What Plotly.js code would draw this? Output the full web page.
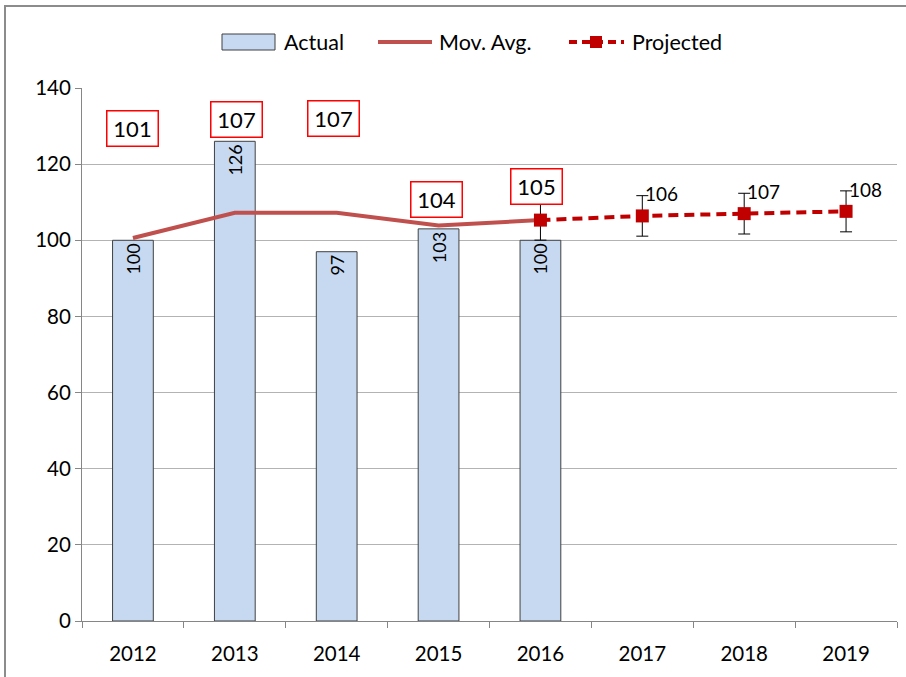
<!DOCTYPE html>
<html>
<head>
<meta charset="utf-8">
<script src="https://cdn.plot.ly/plotly-3.0.1.min.js"></script>
<style>
  html, body { margin: 0; padding: 0; overflow: hidden; background: #fff; }
  #chart { width: 906px; height: 677px; }
  #frame { position: absolute; left: 4px; top: 5px; width: 1200px; height: 1200px;
           border-left: 2px solid #8c8c8c; border-top: 2px solid #8c8c8c; pointer-events: none; }
</style>
</head>
<body>
<div id="chart"></div>
<div id="frame"></div>
<script>
// ---- data ----
const years = ['2012', '2013', '2014', '2015', '2016', '2017', '2018', '2019'];
const actualYears = ['2012', '2013', '2014', '2015', '2016'];
const actual = [100, 126, 97, 103, 100];
const movAvg = [100.6, 107.2, 107.2, 103.9, 105.3];
const projYears = ['2016', '2017', '2018', '2019'];
const projected = [105.3, 106.4, 107.0, 107.6];
const projErrPct = 5;
const seriesNames = ['Actual', 'Mov. Avg.', 'Projected'];
const titleText = 'Average Annual Sales Volume per Store (Thousand Units) Including Trend';

// ---- styling ----
const FONT = 'Lato, "Open Sans", sans-serif';
const BAR_FILL = '#c6d9f1', BAR_LINE = '#404040';
const MA_COLOR = '#c0504d', PROJ_COLOR = '#c00000';
const boxShiftY = [110, 93, 94, 26, 34];
const boxShiftX = [0, 2, -3, -2, -4];

// plot area in page pixels (for the hand-drawn legend)
const PL = 82, PR = 897, PT = 88, PB = 621;
const px = v => (v - PL) / (PR - PL);
const py = v => (PB - v) / (PB - PT);

const traces = [
  {
    type: 'bar', name: seriesNames[0], x: actualYears, y: actual,
    marker: { color: BAR_FILL, line: { color: BAR_LINE, width: 1 } },
    text: actual.map(v => String(v)), textposition: 'inside', insidetextanchor: 'end',
    textangle: -90, constraintext: 'none',
    textfont: { family: FONT, size: 18, color: '#000' }
  },
  {
    type: 'scatter', mode: 'lines', name: seriesNames[1], x: actualYears, y: movAvg,
    line: { color: MA_COLOR, width: 4 }
  },
  {
    type: 'scatter', mode: 'lines+markers', name: seriesNames[2], x: projYears, y: projected,
    line: { color: PROJ_COLOR, width: 4, dash: '10px,6px' },
    marker: { symbol: 'square', size: 13, color: PROJ_COLOR },
    error_y: { type: 'percent', value: projErrPct, color: '#000', thickness: 1, width: 6 }
  }
];

// category axis: annotations use the category index
const annotations = movAvg.map((v, i) => ({
  x: years.indexOf(actualYears[i]), y: v, xref: 'x', yref: 'y',
  text: String(Math.round(v)), showarrow: false,
  xshift: boxShiftX[i], yshift: boxShiftY[i],
  font: { family: FONT, size: 22, color: '#000' },
  bordercolor: '#ff0000', borderwidth: 1.5, borderpad: 3, bgcolor: '#fff',
  width: 44, height: 28
}));

// projected value labels (skip the first, which joins the moving average)
projected.forEach((v, i) => {
  if (i === 0) return;
  annotations.push({
    x: years.indexOf(projYears[i]), y: v, xref: 'x', yref: 'y',
    text: String(Math.round(v)), showarrow: false,
    xanchor: 'left', yanchor: 'middle', xshift: 1, yshift: 22,
    font: { family: FONT, size: 19, color: '#000' }
  });
});

// title (mostly above the visible page, as in the reference)
annotations.push({
  xref: 'paper', yref: 'paper', x: -0.031, y: 1.161, xanchor: 'left', yanchor: 'bottom',
  text: '<b>' + titleText + '</b>', showarrow: false,
  font: { family: FONT, size: 22, color: '#000' }
});

// legend texts
const legendTextX = [282, 437, 630];
seriesNames.forEach((n, i) => {
  annotations.push({
    xref: 'paper', yref: 'paper', x: px(legendTextX[i]), y: py(42),
    xanchor: 'left', yanchor: 'middle', text: n, showarrow: false,
    font: { family: FONT, size: 21.5, color: '#000' }
  });
});

const shapes = [
  { type: 'rect', xref: 'paper', yref: 'paper', x0: px(222), x1: px(275), y0: py(50), y1: py(34),
    fillcolor: BAR_FILL, line: { color: BAR_LINE, width: 1 } },
  { type: 'line', xref: 'paper', yref: 'paper', x0: px(378), x1: px(432), y0: py(42), y1: py(42),
    line: { color: MA_COLOR, width: 4 } },
  { type: 'line', xref: 'paper', yref: 'paper', x0: px(569), x1: px(624), y0: py(42), y1: py(42),
    line: { color: PROJ_COLOR, width: 4, dash: '8px,5px' } },
  { type: 'rect', xref: 'paper', yref: 'paper', x0: px(590), x1: px(602), y0: py(48), y1: py(36),
    fillcolor: PROJ_COLOR, line: { color: PROJ_COLOR, width: 0 } }
];

const layout = {
  width: 906, height: 677,
  margin: { l: PL, r: 906 - PR, t: PT, b: 677 - PB },
  paper_bgcolor: '#fff', plot_bgcolor: '#fff',
  font: { family: FONT, size: 20, color: '#000' },
  bargap: 0.6,
  showlegend: false,
  xaxis: {
    type: 'category', categoryorder: 'array', categoryarray: years, range: [-0.5, 7.5],
    showline: true, linecolor: '#868686', linewidth: 1,
    ticks: 'outside', tickson: 'boundaries', ticklen: 6, tickcolor: '#868686',
    showgrid: false, ticklabelstandoff: 14,
    tickfont: { family: FONT, size: 20.5, color: '#000' }, fixedrange: true
  },
  yaxis: {
    range: [0, 140], dtick: 20, tick0: 0,
    showline: true, linecolor: '#868686', linewidth: 1,
    ticks: 'outside', ticklen: 6, tickcolor: '#868686',
    showgrid: true, gridcolor: '#b3b3b3', gridwidth: 1, zeroline: false,
    tickfont: { family: FONT, size: 20.5, color: '#000' }, fixedrange: true
  },
  annotations: annotations,
  shapes: shapes
};

Plotly.newPlot('chart', traces, layout, { staticPlot: true, displayModeBar: false });
</script>
</body>
</html>
